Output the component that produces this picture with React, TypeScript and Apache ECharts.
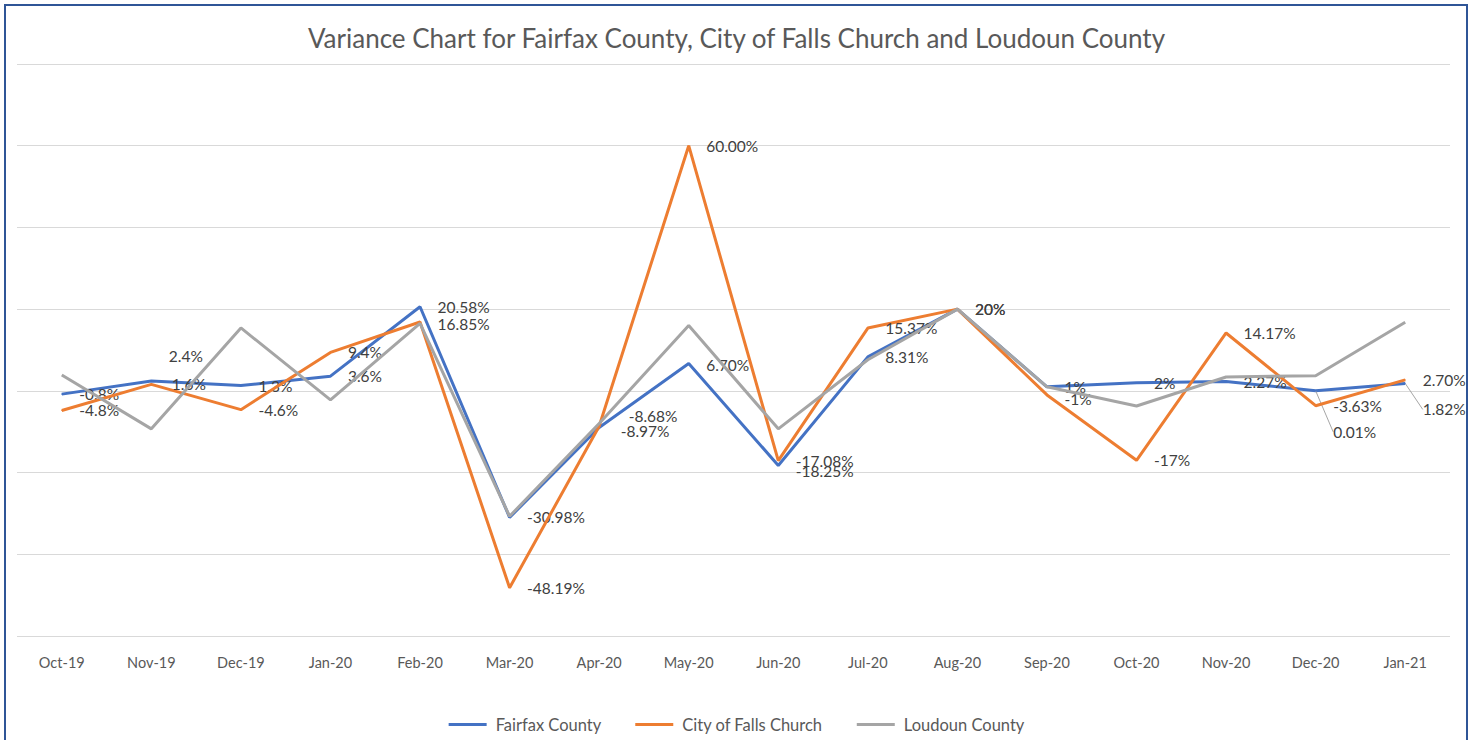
import React, { useEffect, useRef } from "react";
import * as echarts from "echarts";

const categories = ["Oct-19", "Nov-19", "Dec-19", "Jan-20", "Feb-20", "Mar-20", "Apr-20", "May-20", "Jun-20", "Jul-20", "Aug-20", "Sep-20", "Oct-20", "Nov-20", "Dec-20", "Jan-21"];
const fairfax = [-0.8, 2.4, 1.3, 3.6, 20.58, -30.98, -8.97, 6.7, -18.25, 8.31, 20, 1, 2, 2.27, 0.01, 1.82];
const fallsChurch = [-4.8, 1.6, -4.6, 9.4, 16.85, -48.19, -8.68, 60.0, -17.08, 15.37, 20, -1, -17, 14.17, -3.63, 2.7];
const loudoun = [3.9, -9.3, 15.4, -2.2, 16.5, -30.7, -8.0, 16.0, -9.3, 7.6, 20, 1.0, -3.7, 3.4, 3.7, 16.8];
const fairfaxLabels = ["-0.8%", "2.4%", "1.3%", "3.6%", "20.58%", "-30.98%", "-8.97%", "6.70%", "-18.25%", "8.31%", "20%", "1%", "2%", "2.27%", "0.01%", "1.82%"];
const fallsLabels = ["-4.8%", "1.6%", "-4.6%", "9.4%", "16.85%", "-48.19%", "-8.68%", "60.00%", "-17.08%", "15.37%", "20%", "-1%", "-17%", "14.17%", "-3.63%", "2.70%"];

// label nudges [dx, dy] (style only)
const fairfaxNudge: Record<number, [number, number]> = { 1: [0, -25], 6: [4, 3], 7: [0, 2], 8: [0, 6], 14: [0, 41], 15: [0, 26] };
const fallsNudge: Record<number, [number, number]> = { 1: [3, 0], 4: [0, 2], 6: [12, -10], 11: [0, 4] };
const leaderIdx = [14, 15];

const FONT = "Lato, 'Liberation Sans', sans-serif";

export default function App() {
  const ref = useRef<HTMLDivElement>(null);
  useEffect(() => {
    if (!ref.current) return;
    const chart = echarts.init(ref.current, undefined, { renderer: "svg" });
    const labelBase = {
      show: true,
      position: "right",
      distance: 17,
      color: "#404040",
      fontSize: 15.5,
      fontFamily: FONT,
    };
    const series: any[] = [
      {
        name: "Fairfax County",
        type: "line",
        data: fairfax.map((v, i) =>
          leaderIdx.includes(i)
            ? { value: v, labelLine: { show: true, lineStyle: { color: "#a6a6a6", width: 1 } } }
            : { value: v }
        ),
        symbol: "circle",
        symbolSize: 1,
        lineStyle: { color: "#4472C4", width: 3 },
        itemStyle: { color: "#4472C4" },
        label: { ...labelBase, formatter: (p: any) => fairfaxLabels[p.dataIndex] },
        labelLine: { show: false },
        labelLayout: (p: any) => {
          const n = fairfaxNudge[p.dataIndex];
          return n ? { dx: n[0], dy: n[1] } : {};
        },
        z: 2,
      },
      {
        name: "City of Falls Church",
        type: "line",
        data: fallsChurch.map((v) => ({ value: v })),
        symbol: "circle",
        symbolSize: 1,
        lineStyle: { color: "#ED7D31", width: 3 },
        itemStyle: { color: "#ED7D31" },
        label: { ...labelBase, formatter: (p: any) => fallsLabels[p.dataIndex] },
        labelLayout: (p: any) => {
          const n = fallsNudge[p.dataIndex];
          return n ? { dx: n[0], dy: n[1] } : {};
        },
        z: 3,
      },
      {
        name: "Loudoun County",
        type: "line",
        data: loudoun,
        symbol: "none",
        lineStyle: { color: "#A5A5A5", width: 3 },
        itemStyle: { color: "#A5A5A5" },
        z: 4,
      },
    ];

    chart.setOption({
      animation: false,
      backgroundColor: "#ffffff",
      title: {
        text: "Variance Chart for Fairfax County, City of Falls Church and Loudoun County",
        left: "center",
        top: 20,
        textStyle: { color: "#595959", fontSize: 26, fontWeight: "normal", fontFamily: FONT },
      },
      legend: {
        bottom: 2,
        left: "center",
        itemWidth: 38,
        itemHeight: 3,
        itemGap: 34,
        icon: "rect",
        textStyle: { color: "#595959", fontSize: 16.5, fontFamily: FONT, padding: [0, 0, 0, 4] },
        data: ["Fairfax County", "City of Falls Church", "Loudoun County"],
      },
      grid: { left: 17, right: 23, top: 64, bottom: 104 },
      xAxis: {
        type: "category",
        data: categories,
        boundaryGap: true,
        axisLine: { show: false },
        axisTick: { show: false },
        axisLabel: { color: "#595959", fontSize: 14.5, fontFamily: FONT, margin: 19 },
      },
      yAxis: {
        type: "value",
        min: -60,
        max: 80,
        interval: 20,
        axisLabel: { show: false },
        axisLine: { show: false },
        axisTick: { show: false },
        splitLine: { lineStyle: { color: "#d9d9d9", width: 1 } },
      },
      graphic: [
        {
          type: "rect",
          shape: { x: 5, y: 5, width: 1462, height: 780 },
          style: { fill: "none", stroke: "#2F5597", lineWidth: 2 },
          silent: true,
          z: 100,
        },
      ],
      series,
    });
    return () => chart.dispose();
  }, []);
  return (
    <div
      ref={ref}
      style={{ position: "absolute", left: 0, top: 0, width: 1473, height: 740, background: "#fff" }}
    />
  );
}
